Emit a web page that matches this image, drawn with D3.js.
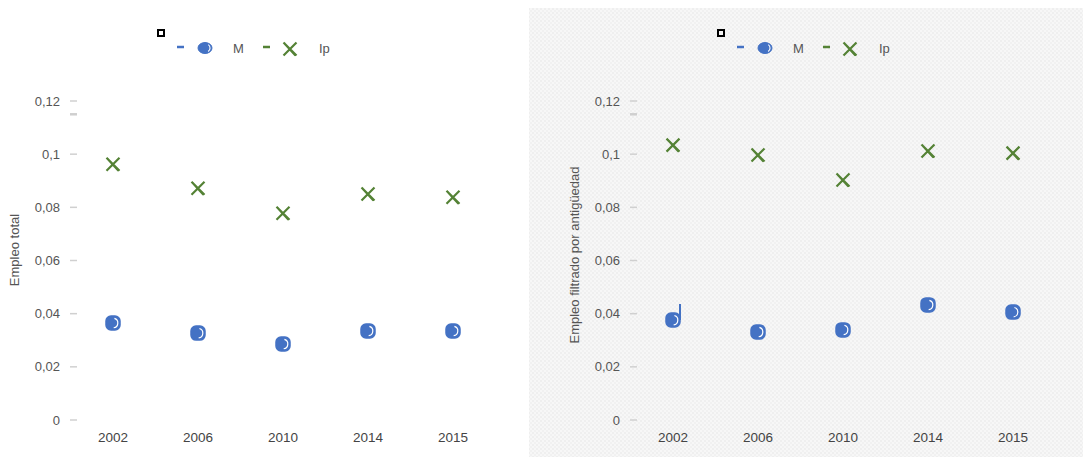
<!DOCTYPE html>
<html><head><meta charset="utf-8">
<script src="https://cdn.jsdelivr.net/npm/d3@7"></script>
<style>body{margin:0;background:#fff}svg{display:block;font-family:"Liberation Sans",Arial,sans-serif}</style>
</head><body><svg id="c" width="1083" height="457"></svg>
<script>
const years = ["2002","2006","2010","2014","2015"];
const yTicks = [0,0.02,0.04,0.06,0.08,0.1,0.12];
const seriesNames = ["M","Ip"];
const leftM  = [0.0365,0.0327,0.0286,0.0335,0.0335];
const leftIp = [0.0962,0.0872,0.0778,0.0850,0.0838];
const rightM  = [0.0376,0.0331,0.0339,0.0433,0.0406];
const rightIp = [0.1034,0.0997,0.0903,0.1012,0.1004];
const titles = ["Empleo total","Empleo filtrado por antigüedad"];

const svg = d3.select("#c");
const defs = svg.append("defs");
const pat = defs.append("pattern").attr("id","tex").attr("width",4).attr("height",4).attr("patternUnits","userSpaceOnUse");
pat.append("rect").attr("width",4).attr("height",4).attr("fill","#f7f7f7");
pat.append("rect").attr("width",2).attr("height",2).attr("fill","#efefef");
pat.append("rect").attr("x",2).attr("y",2).attr("width",2).attr("height",2).attr("fill","#f1f1f1");
svg.append("rect").attr("x",529).attr("y",8).attr("width",554).attr("height",449).attr("fill","url(#tex)");

const fmt = v => v===0 ? "0" : String(+v.toFixed(2)).replace(".",",");
const blue="#4472c4", green="#548235";

function panel(ox, mVals, ipVals, title, tcy){
  const g = svg.append("g").attr("transform",`translate(${ox},0)`);
  const x = d3.scalePoint().domain(years).range([113,453]);
  const y = d3.scaleLinear().domain([0,0.12]).range([420,101]);
  const ya = g.append("g");
  yTicks.forEach(t=>{
    ya.append("text").attr("x",60).attr("y",y(t)+4.5).attr("text-anchor","end")
      .attr("font-size",13).attr("fill","#555").text(fmt(t));
    ya.append("line").attr("x1",70).attr("x2",77).attr("y1",y(t)).attr("y2",y(t))
      .attr("stroke","#d0d0d0").attr("stroke-width",1.5);
  });
  ya.append("line").attr("x1",70).attr("x2",77).attr("y1",y(0.115)).attr("y2",y(0.115))
      .attr("stroke","#cfcfcf").attr("stroke-width",2.5);
  years.forEach(yr=>{
    g.append("text").attr("x",x(yr)).attr("y",442).attr("text-anchor","middle")
      .attr("font-size",13.5).attr("fill","#444").text(yr);
  });
  g.append("text").attr("transform",`translate(19,${tcy}) rotate(-90)`)
    .attr("text-anchor","middle").attr("font-size",13).attr("fill","#555").text(title);
  mVals.forEach((v,i)=>circleMark(g, x(years[i]), y(v)));
  ipVals.forEach((v,i)=>xMark(g, x(years[i]), y(ipVals[i])));
  return {g,x,y};
}
function circleMark(g,cx,cy){
  g.append("rect").attr("x",cx-7).attr("y",cy-7).attr("width",14).attr("height",14).attr("rx",5)
    .attr("fill",blue).attr("stroke",blue).attr("stroke-width",1.5);
  g.append("path").attr("d",d3.arc()({innerRadius:4.2,outerRadius:5.4,startAngle:0.3,endAngle:3.0}))
    .attr("transform",`translate(${cx},${cy})`).attr("fill","#fff");
}
function xMark(g,cx,cy){
  const s=6.5;
  g.append("path").attr("d",`M${cx-s},${cy-s}L${cx+s},${cy+s}M${cx+s},${cy-s}L${cx-s},${cy+s}M${cx-s+1},${cy-s+1}L${cx+s-1},${cy+s}`)
    .attr("stroke",green).attr("stroke-width",2.2).attr("fill","none");
}
function legend(ox){
  const g = svg.append("g").attr("transform",`translate(${ox},0)`);
  g.append("rect").attr("x",158).attr("y",30).attr("width",6).attr("height",6).attr("fill","none").attr("stroke","#000").attr("stroke-width",2);
  g.append("line").attr("x1",177).attr("x2",184).attr("y1",47).attr("y2",47).attr("stroke",blue).attr("stroke-width",2.5);
  g.append("ellipse").attr("cx",205).attr("cy",48).attr("rx",7).attr("ry",5.5).attr("fill",blue).attr("stroke",blue);
  g.append("path").attr("d",d3.arc()({innerRadius:3.5,outerRadius:4.6,startAngle:0.6,endAngle:2.6}))
    .attr("transform","translate(206,48)").attr("fill","#fff");
  g.append("text").attr("x",233).attr("y",52.5).attr("font-size",13).attr("fill","#555").text(seriesNames[0]);
  g.append("line").attr("x1",263).attr("x2",270).attr("y1",47).attr("y2",47).attr("stroke",green).attr("stroke-width",2.5);
  xMark(g,290,49);
  g.append("text").attr("x",319).attr("y",52.5).attr("font-size",13).attr("fill","#555").text(seriesNames[1]);
}
panel(0,leftM,leftIp,titles[0],250);
const r = panel(560,rightM,rightIp,titles[1],255);
r.g.append("line").attr("x1",r.x("2002")+7).attr("x2",r.x("2002")+7).attr("y1",r.y(rightM[0])-16).attr("y2",r.y(rightM[0]))
  .attr("stroke",blue).attr("stroke-width",2);
legend(0); legend(560);
</script></body></html>
